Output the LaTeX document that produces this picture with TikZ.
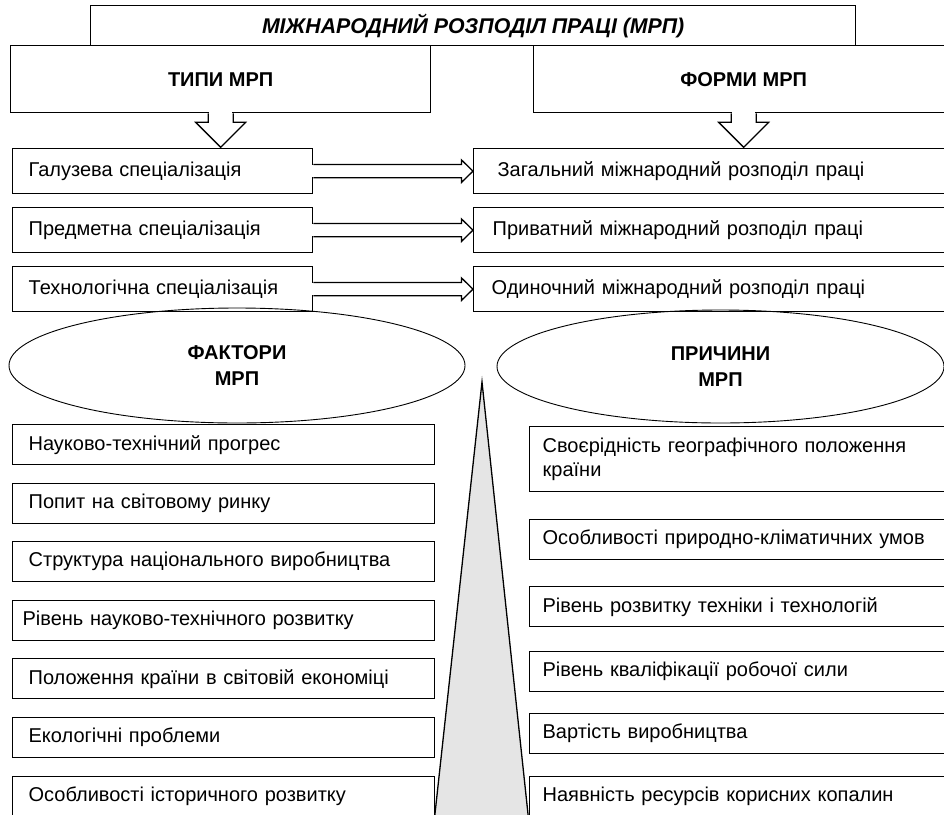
\documentclass[tikz,border=0pt]{standalone}
\usepackage{fontspec}
\setmainfont{Liberation Sans}
\usetikzlibrary{shapes.geometric,calc}
\begin{document}
\begin{tikzpicture}[x=1pt,y=-1pt,
  box/.style={draw, line width=1.3pt, rectangle, inner ysep=0pt, anchor=north west, fill=white,
    font=\fontsize{20}{24}\selectfont},
  rowl/.style={box, minimum width=300pt, minimum height=45pt, inner xsep=16pt, text width=268pt, align=left},
  rowr/.style={box, minimum width=487pt, minimum height=45pt, inner xsep=#1pt, text width={487pt-2*#1pt}, align=left},
  lowl/.style={box, minimum width=422pt, minimum height=40pt, inner xsep=16pt, text width=390pt, align=left},
  lowr/.style={box, minimum width=431pt, minimum height=40pt, inner xsep=13pt, text width=405pt, align=left},
  head/.style={box, inner xsep=0pt, font=\fontsize{20}{24}\selectfont\bfseries},
  oval/.style={draw, line width=0.9pt, ellipse, inner sep=0pt, align=center,
    font=\fontsize{20}{26}\selectfont\bfseries},
  arr/.style={draw, line width=1.3pt, line join=miter}]
\useasboundingbox (0,0) rectangle (944,814);
\clip (0,0) rectangle (944,814);
\fill[white] (0,0) rectangle (944,814);

% triangle
\draw[line width=1.3pt, fill=black!10, line join=miter] (482,382) -- (433.2,830) -- (529.7,830) -- cycle;

% headers
\node[head, minimum width=765pt, minimum height=40pt, font=\fontsize{21.3}{24}\selectfont\bfseries\itshape] (mrp) at (90,5) {МІЖНАРОДНИЙ РОЗПОДІЛ ПРАЦІ (МРП)};
\node[head, minimum width=420pt, minimum height=67pt] (typy) at (10,45) {ТИПИ МРП};
\node[head, minimum width=420pt, minimum height=67pt] (formy) at (533,45) {ФОРМИ МРП};

% row boxes
\node[rowl] (g1) at (12,148) {Галузева спеціалізація};
\node[rowl] (g2) at (12,207) {Предметна спеціалізація};
\node[rowl] (g3) at (12,266) {Технологічна спеціалізація};
\node[rowr=24] (f1) at (473,148) {Загальний міжнародний розподіл праці};
\node[rowr=19] (f2) at (473,207) {Приватний міжнародний розподіл праці};
\node[rowr=18] (f3) at (473,266) {Одиночний міжнародний розподіл праці};

% down arrows
\foreach \b/\t in {typy/g1, formy/f1}{
  \fill[white] ($(\b.south)+(-11.8,-1)$) rectangle ($(\b.south)+(11.8,1)$);
  \draw[arr] ($(\b.south)+(-12.5,0)$) -- ($(\b.south)+(-12.5,9)$) -- ($(\b.south)+(-25,9)$)
    -- ($(\b.south)+(0,34)$) coordinate (\t tip)
    -- ($(\b.south)+(25,9)$) -- ($(\b.south)+(12.5,9)$) -- ($(\b.south)+(12.5,0)$);
}

% double arrows
\foreach \a/\b in {g1/f1, g2/f2, g3/f3}{
  \fill[white] ($(\a.east)+(-1,-5.9)$) rectangle ($(\a.east)+(1,5.9)$);
  \draw[arr] ($(\a.east)+(0,-6.6)$) -- ($(\b.west)+(-11.5,-6.6)$) -- ($(\b.west)+(-11.5,-11.2)$)
    -- (\b.west) -- ($(\b.west)+(-11.5,11.2)$) -- ($(\b.west)+(-11.5,6.6)$) -- ($(\a.east)+(0,6.6)$);
}

% ellipses
\node[oval, minimum width=456pt, minimum height=115pt] (fakt) at (237,365.5) {ФАКТОРИ\\МРП};
\node[oval, minimum width=447pt, minimum height=113pt] (prych) at (720.5,366.5) {ПРИЧИНИ\\МРП};

% factors
\node[lowl] (l1) at (12,424) {Науково-технічний прогрес};
\node[lowl] (l2) at (12,483) {Попит на світовому ринку};
\node[lowl] (l3) at (12,541) {Структура національного виробництва};
\node[lowl, inner xsep=10pt, text width=402pt] (l4) at (12,600) {Рівень науково-технічного розвитку};
\node[lowl] (l5) at (12,658) {Положення країни в світовій економіці};
\node[lowl] (l6) at (12,717) {Екологічні проблеми};
\node[lowl] (l7) at (12,776) {Особливості історичного розвитку};

% reasons
\node[lowr, minimum height=65pt] (r1) at (529,426) {Своєрідність географічного положення\\країни};
\node[lowr] (r2) at (529,519) {Особливості природно-кліматичних умов};
\node[lowr] (r3) at (529,586) {Рівень розвитку техніки і технологій};
\node[lowr] (r4) at (529,651) {Рівень кваліфікації робочої сили};
\node[lowr] (r5) at (529,713) {Вартість виробництва};
\node[lowr] (r6) at (529,776) {Наявність ресурсів корисних копалин};
\end{tikzpicture}
\end{document}
